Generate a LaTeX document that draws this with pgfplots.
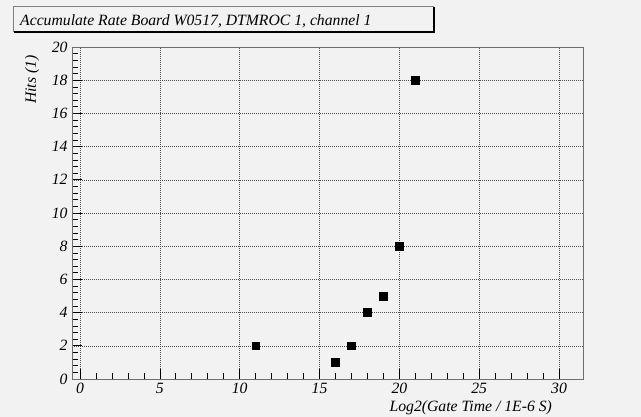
\documentclass[border=0pt]{standalone}
\usepackage{pgfplots}
\pgfplotsset{compat=1.18}
\usepackage{fontspec}
\setmainfont{Liberation Serif}
\definecolor{bg}{HTML}{F2F2F2}
\definecolor{frame}{HTML}{6E6E6E}
\begin{document}
\begin{tikzpicture}[x=1pt,y=1pt]
\fill[bg] (-72,-38) rectangle (569,379);
\path[use as bounding box] (-72,-38) rectangle (569,379);
\begin{axis}[
  at={(0,0)}, anchor=south west,
  scale only axis,
  width=511pt, height=332pt,
  xmin=-0.5, xmax=31.5, ymin=0, ymax=20,
  xtick={0,5,...,30}, ytick={0,2,...,20},
  minor x tick num=4, minor y tick num=4,
  tick align=inside,
  xtick pos=bottom, ytick pos=left,
  major tick length=10pt, minor tick length=6pt,
  tick style={black, line width=0.6pt},
  grid=major,
  major grid style={gray!60!black, line width=0.5pt, dash pattern=on 1pt off 1pt},
  axis line style={frame, line width=0.9pt},
  axis background/.style={fill=bg},
  /pgf/number format/assume math mode=true,
  ticklabel style={font=\itshape\fontsize{15.7}{15.7}\selectfont},
  yticklabel style={xshift=-1pt},
  xticklabel style={yshift=-1pt},
  xlabel={Log2(Gate Time / 1E-6 S)},
  ylabel={Hits (1)},
  xlabel style={font=\itshape\fontsize{15.7}{15.7}\selectfont, at={(axis description cs:0.946,-0.087)}, anchor=east},
  ylabel style={font=\itshape\fontsize{15.7}{15.7}\selectfont, at={(axis description cs:-0.078,0.985)}, anchor=east},
  clip=false,
]
\addplot[only marks, mark=square*, mark size=3.9pt, mark options={fill=black, draw=black}]
  coordinates {(11,2) (16,1) (17,2) (18,4) (19,5) (20,8) (21,18)};
\end{axis}
% title box
\draw[gray, line width=0.6pt, fill=bg] (-59,348) rectangle (361,373);
\draw[black, line width=2pt] (-58,347) -- (362,347) -- (362,372);
\node[anchor=base west, inner sep=0pt, font=\itshape\fontsize{15.7}{15.7}\selectfont] at (-52,353) {Accumulate Rate Board W0517, DTMROC 1, channel 1};
\end{tikzpicture}
\end{document}
